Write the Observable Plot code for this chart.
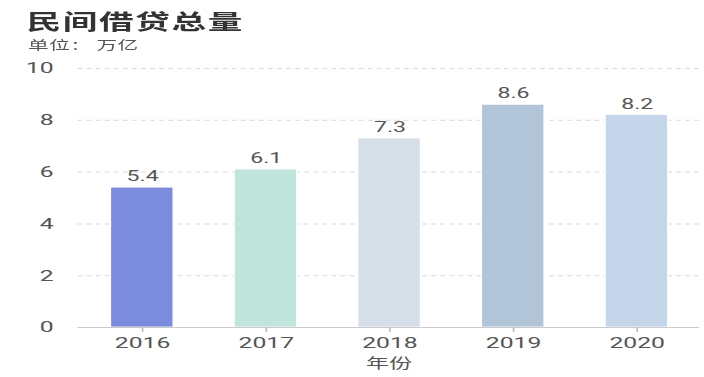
<!DOCTYPE html>
<html><head><meta charset="utf-8">
<script src="https://cdn.jsdelivr.net/npm/d3@7"></script>
<script src="https://cdn.jsdelivr.net/npm/@observablehq/plot@0.6"></script>
<style>
html,body{margin:0;padding:0;background:#fff;overflow:hidden;width:704px;height:377px}
#wrap{width:427px;transform:scaleX(1.6487);transform-origin:0 0;font-family:Roboto,"Noto Sans CJK SC",sans-serif;}
#head{position:relative;height:50px}
#title{position:absolute;left:16px;top:10px;font-size:21px;line-height:21px;letter-spacing:1px;font-weight:bold;color:#333;font-family:"Noto Sans CJK SC",sans-serif;white-space:nowrap}
#subtitle{position:absolute;left:17px;top:38px;font-size:12.5px;line-height:14px;letter-spacing:0.3px;color:#555;font-family:"Noto Sans CJK SC",sans-serif;white-space:pre}
</style></head><body>
<div id="wrap"><div id="head"><div id="title"></div><div id="subtitle"></div></div><div id="chart"></div></div>
<script>
const title = "民间借贷总量";
const subtitle = "单位： 万亿";
const years = ["2016","2017","2018","2019","2020"];
const values = [5.4, 6.1, 7.3, 8.6, 8.2];
const colors = ["#7b8bdd","#c0e5dd","#d6dee8","#b2c4d7","#c4d5ea"];
const yTicks = [0, 2, 4, 6, 8, 10];
const xLabel = "年份";

document.getElementById("title").textContent = title;
document.getElementById("subtitle").textContent = subtitle;

const data = years.map((y, i) => ({year: y, value: values[i], color: colors[i]}));

const chart = Plot.plot({
  width: 427, height: 327,
  marginTop: 18, marginBottom: 50, marginLeft: 47, marginRight: 3,
  style: {fontFamily: 'Roboto, "Noto Sans CJK SC", sans-serif', fontSize: "15px", background: "#fff"},
  x: {type: "band", domain: years, paddingInner: 0.5, paddingOuter: 0.25, label: null},
  y: {domain: [0, 10], label: null},
  color: {type: "identity"},
  marks: [
    Plot.gridY(yTicks, {stroke: "#d9d9d9", strokeOpacity: 1, strokeDasharray: "3,2.5"}),
    Plot.barY(data, {x: "year", y: "value", fill: "color", stroke: "#fff", strokeWidth: 0.8}),
    Plot.ruleY([0], {stroke: "#ccc"}),
    Plot.axisY(yTicks, {tickSize: 0, tickPadding: 15, label: null, fontSize: 15, fill: "#555"}),
    Plot.axisX({tickSize: 5, tickPadding: 5, label: null, stroke: "#bbb", fill: "#555", fontSize: 15}),
    Plot.text(data, {x: "year", y: "value", text: d => d.value.toFixed(1), dy: -11, fontSize: 14, fill: "#555"}),
    Plot.text([xLabel], {frameAnchor: "bottom", dy: 40, fontSize: 14, fill: "#555", fontFamily: '"Noto Sans CJK SC", sans-serif'})
  ]
});
document.getElementById("chart").appendChild(chart);
</script>
</body></html>
